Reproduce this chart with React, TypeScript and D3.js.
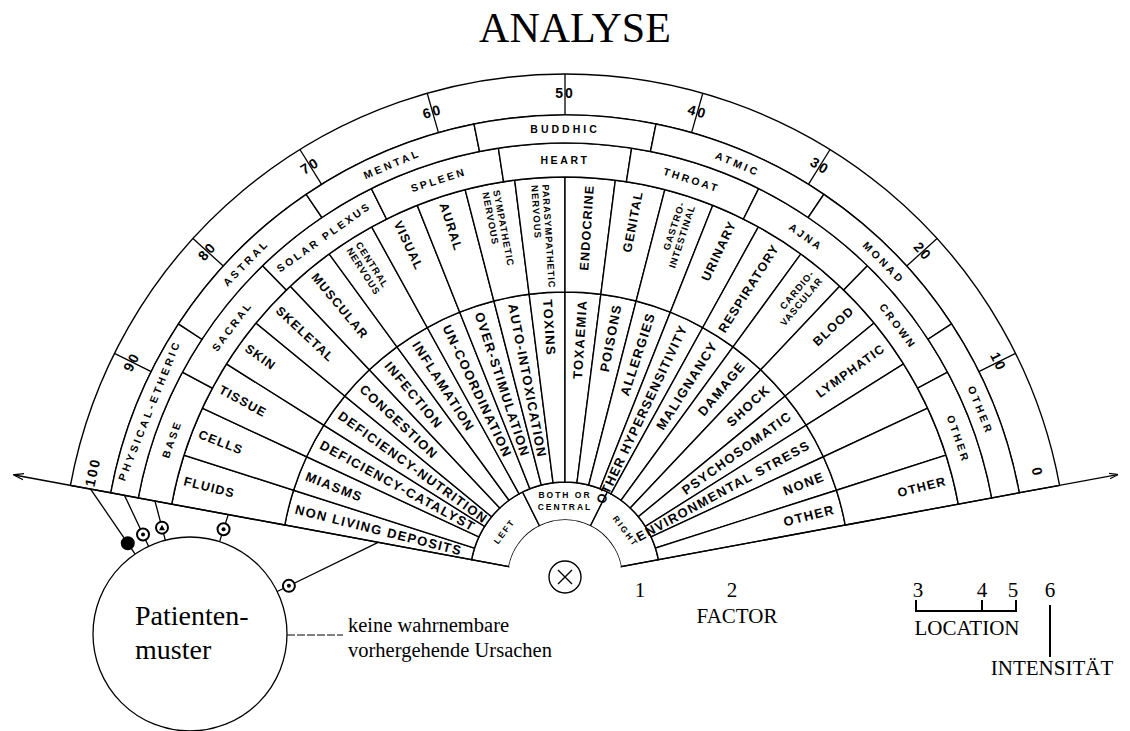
import React from 'react';
import * as d3 from 'd3';

// ---- chart content (left to right around the fan) ----
const sides = ['LEFT', 'BOTH OR\nCENTRAL', 'RIGHT'];
const factors = [
  'NON LIVING DEPOSITS', 'MIASMS', 'DEFICIENCY-CATALYST', 'DEFICIENCY-NUTRITION',
  'CONGESTION', 'INFECTION', 'INFLAMATION', 'UN-COORDINATION', 'OVER-STIMULATION',
  'AUTO-INTOXICATION', 'TOXINS', 'TOXAEMIA', 'POISONS', 'ALLERGIES',
  'OTHER HYPERSENSITIVITY', 'MALIGNANCY', 'DAMAGE', 'SHOCK', 'PSYCHOSOMATIC',
  'ENVIRONMENTAL STRESS', 'NONE', 'OTHER',
];
const systems = [
  'FLUIDS', 'CELLS', 'TISSUE', 'SKIN', 'SKELETAL', 'MUSCULAR', 'CENTRAL\nNERVOUS',
  'VISUAL', 'AURAL', 'SYMPATHETIC\nNERVOUS', 'PARASYMPATHETIC\nNERVOUS', 'ENDOCRINE',
  'GENITAL', 'GASTRO-\nINTESTINAL', 'URINARY', 'RESPIRATORY', 'CARDIO-\nVASCULAR',
  'BLOOD', 'LYMPHATIC', '', '', 'OTHER',
];
const chakras = ['BASE', 'SACRAL', 'SOLAR PLEXUS', 'SPLEEN', 'HEART', 'THROAT', 'AJNA', 'CROWN', 'OTHER'];
const planes = ['PHYSICAL-ETHERIC', 'ASTRAL', 'MENTAL', 'BUDDHIC', 'ATMIC', 'MONAD', 'OTHER'];
const scaleValues = [100, 90, 80, 70, 60, 50, 40, 30, 20, 10, 0];
// rings tied to the patient circle, outer to inner
const patientLinks = ['scale', 'planes', 'chakras', 'systems', 'factors'];

const W = 1130;
const H = 731;
const cx = 565;
const cy = 577;
const half = (79.5 * Math.PI) / 180;
const radii = { hole: 57, sides: 95, factors: 285, systems: 400, chakras: 434, planes: 462, scale: 503 };

const SANS = '"Liberation Sans", Arial, sans-serif';
const SERIF = '"Liberation Serif", "Times New Roman", serif';

const pt = (a: number, r: number): [number, number] => [cx + r * Math.sin(a), cy - r * Math.cos(a)];
const deg = (a: number) => (a * 180) / Math.PI;

type Ring = {
  key: string;
  labels: string[];
  r0: number;
  r1: number;
  mode: 'radial' | 'tangent';
  size: number;
  small?: number;
  weight: number;
  ls: number;
  maxLen?: number;
};

const rings: Ring[] = [
  { key: 'sides', labels: sides, r0: radii.hole, r1: radii.sides, mode: 'tangent', size: 8.5, weight: 700, ls: 2 },
  { key: 'factors', labels: factors, r0: radii.sides, r1: radii.factors, mode: 'radial', size: 13, weight: 700, ls: 1.4, maxLen: 196 },
  { key: 'systems', labels: systems, r0: radii.factors, r1: radii.systems, mode: 'radial', size: 12.5, small: 9.5, weight: 700, ls: 1.2, maxLen: 104 },
  { key: 'chakras', labels: chakras, r0: radii.systems, r1: radii.chakras, mode: 'tangent', size: 10.5, weight: 700, ls: 2.6 },
  { key: 'planes', labels: planes, r0: radii.chakras, r1: radii.planes, mode: 'tangent', size: 10.5, weight: 700, ls: 3 },
];

const arcGen = d3.arc<any>();

function RingView({ ring }: { ring: Ring }) {
  const n = ring.labels.length;
  const ang = d3.scaleLinear().domain([0, n]).range([-half, half]);
  return (
    <g>
      {ring.labels.map((lab, i) => (
        <path
          key={'s' + i}
          d={arcGen({ innerRadius: ring.r0, outerRadius: ring.r1, startAngle: ang(i), endAngle: ang(i + 1) }) || ''}
          transform={`translate(${cx},${cy})`}
          fill="#fff"
          stroke="#000"
          strokeWidth={1.4}
        />
      ))}
      {ring.labels.map((lab, i) => {
        if (!lab) return null;
        const a = ang(i + 0.5);
        const lines = lab.split('\n');
        const multi = lines.length > 1;
        const size = multi && ring.small ? ring.small : ring.size;
        const ls = multi && ring.small ? 1 : ring.ls;
        if (ring.mode === 'radial') {
          const [x, y] = pt(a, ring.r1 - 7);
          const left = a < 0;
          const rot = left ? 90 + deg(a) : deg(a) - 90;
          const maxLen = ring.maxLen || ring.r1 - ring.r0;
          const lh = size * 1.15;
          return (
            <text
              key={'t' + i}
              transform={`translate(${x},${y}) rotate(${rot})`}
              textAnchor={left ? 'start' : 'end'}
              fontFamily={SANS}
              fontSize={size}
              fontWeight={ring.weight}
              letterSpacing={ls}
            >
              {lines.map((ln, j) => {
                const est = ln.length * (size * 0.64 + ls);
                return (
                  <tspan
                    key={j}
                    x={0}
                    y={(j - (lines.length - 1) / 2) * lh}
                    dominantBaseline="central"
                    {...(est > maxLen ? { textLength: maxLen, lengthAdjust: 'spacingAndGlyphs' } : {})}
                  >
                    {ln}
                  </tspan>
                );
              })}
            </text>
          );
        }
        const rm = (ring.r0 + ring.r1) / 2;
        const [x, y] = pt(a, rm);
        const lh = size * 1.35;
        return (
          <text
            key={'t' + i}
            transform={`translate(${x},${y}) rotate(${deg(a)})`}
            textAnchor="middle"
            fontFamily={SANS}
            fontSize={size}
            fontWeight={ring.weight}
            letterSpacing={ls}
          >
            {lines.map((ln, j) => (
              <tspan key={j} x={0} y={(j - (lines.length - 1) / 2) * lh} dominantBaseline="central">
                {ln}
              </tspan>
            ))}
          </text>
        );
      })}
    </g>
  );
}

function linkRadius(key: string) {
  if (key === 'scale') return (radii.planes + radii.scale) / 2;
  const ring = rings.find((r) => r.key === key)!;
  return (ring.r0 + ring.r1) / 2;
}

export default function App() {
  const sAng = d3.scaleLinear().domain([100, 0]).range([-half, half]);
  const patient = { x: 190, y: 634, r: 97 };
  const baseL0 = pt(-half, radii.hole);
  const baseL1 = pt(-half, 560);
  const baseR0 = pt(half, radii.hole);
  const baseR1 = pt(half, 562);

  return (
    <svg width={W} height={H} style={{ position: 'absolute', left: 0, top: 0, background: '#fff' }}>
      <defs>
        <marker id="arr" viewBox="0 0 10 10" refX="9" refY="5" markerWidth="7" markerHeight="7" orient="auto">
          <path d="M0,2 L10,5 L0,8" fill="none" stroke="#000" strokeWidth={1.3} />
        </marker>
      </defs>
      <rect width={W} height={H} fill="#fff" />

      <text x={575} y={42} textAnchor="middle" fontFamily={SERIF} fontSize={42}>
        ANALYSE
      </text>

      {/* scale ring */}
      <path
        d={arcGen({ innerRadius: radii.planes, outerRadius: radii.scale, startAngle: -half, endAngle: half }) || ''}
        transform={`translate(${cx},${cy})`}
        fill="#fff"
        stroke="#000"
        strokeWidth={1.4}
      />
      {scaleValues.map((v, i) => {
        const a = sAng(v);
        const [x0, y0] = pt(a, radii.planes);
        const [x1, y1] = pt(a, radii.scale);
        const la = i === 0 ? a + 0.035 : i === scaleValues.length - 1 ? a - 0.035 : a;
        const [tx, ty] = pt(la, 484);
        return (
          <g key={v}>
            <text
              transform={`translate(${tx},${ty}) rotate(${deg(la)})`}
              textAnchor="middle"
              dominantBaseline="central"
              fontFamily={SANS}
              fontSize={14}
              fontWeight={700}
              letterSpacing={2}
            >
              {v}
            </text>
            {i > 0 && i < scaleValues.length - 1 && (
              <line x1={x0} y1={y0} x2={x1} y2={y1} stroke="#000" strokeWidth={1.3} />
            )}
          </g>
        );
      })}

      {rings.map((r) => (
        <RingView key={r.key} ring={r} />
      ))}

      {/* inner hole */}
      <path
        d={arcGen({ innerRadius: 0, outerRadius: radii.hole, startAngle: -half, endAngle: half }) || ''}
        transform={`translate(${cx},${cy})`}
        fill="#fff"
        stroke="none"
      />
      <line x1={baseL0[0]} y1={baseL0[1]} x2={baseL1[0]} y2={baseL1[1]} stroke="#000" strokeWidth={1.5} markerEnd="url(#arr)" />
      <line x1={baseR0[0]} y1={baseR0[1]} x2={baseR1[0]} y2={baseR1[1]} stroke="#000" strokeWidth={1.3} markerEnd="url(#arr)" />
      <circle cx={cx} cy={cy} r={16} fill="none" stroke="#000" strokeWidth={1.4} />
      <path d={`M${cx - 7},${cy - 7}L${cx + 7},${cy + 7}M${cx + 7},${cy - 7}L${cx - 7},${cy + 7}`} stroke="#000" strokeWidth={1.4} />

      {/* patient circle and connectors */}
      <circle cx={patient.x} cy={patient.y} r={patient.r} fill="#fff" stroke="#000" strokeWidth={1.3} />
      {patientLinks.map((key, i) => {
        const [px, py] = pt(-half, linkRadius(key));
        const dx = patient.x - px;
        const dy = patient.y - py;
        const len = Math.hypot(dx, dy);
        const ux = dx / len;
        const uy = dy / len;
        const edge = len - patient.r;
        const sx = px + ux * (edge - 13);
        const sy = py + uy * (edge - 13);
        const ex = px + ux * edge;
        const ey = py + uy * edge;
        return (
          <g key={key}>
            <line x1={px} y1={py} x2={ex} y2={ey} stroke="#000" strokeWidth={1.3} />
            <circle cx={sx} cy={sy} r={6} fill={i === 0 ? '#000' : '#fff'} stroke="#000" strokeWidth={2} />
            {i === 2 ? (
              <path d={`M${sx - 3},${sy + 2.5}L${sx},${sy - 3}L${sx + 3},${sy + 2.5}Z`} fill="#000" />
            ) : i > 0 ? (
              <circle cx={sx} cy={sy} r={2} fill="#000" />
            ) : null}
          </g>
        );
      })}
      <text fontFamily={SERIF} fontSize={28}>
        <tspan x={135} y={625}>Patienten-</tspan>
        <tspan x={135} y={659}>muster</tspan>
      </text>
      <line x1={patient.x + patient.r} y1={635} x2={343} y2={635} stroke="#000" strokeWidth={1} strokeDasharray="8 2" />
      <text fontFamily={SERIF} fontSize={20.5}>
        <tspan x={348} y={632}>keine wahrnembare</tspan>
        <tspan x={348} y={657}>vorhergehende Ursachen</tspan>
      </text>

      {/* legend */}
      <g fontFamily={SERIF} fontSize={21} textAnchor="middle">
        <text x={640} y={597}>1</text>
        <text x={732} y={597}>2</text>
        <text x={737} y={623}>FACTOR</text>
        <text x={918} y={597}>3</text>
        <text x={982} y={597}>4</text>
        <text x={1013} y={597}>5</text>
        <text x={1050} y={597}>6</text>
        <text x={967} y={635}>LOCATION</text>
        <text x={1052} y={675}>INTENSITÄT</text>
      </g>
      <path d="M916,600V611H1016V600M982,600V611" fill="none" stroke="#000" strokeWidth={2} />
      <line x1={1050} y1={605} x2={1050} y2={657} stroke="#000" strokeWidth={2} />
    </svg>
  );
}
